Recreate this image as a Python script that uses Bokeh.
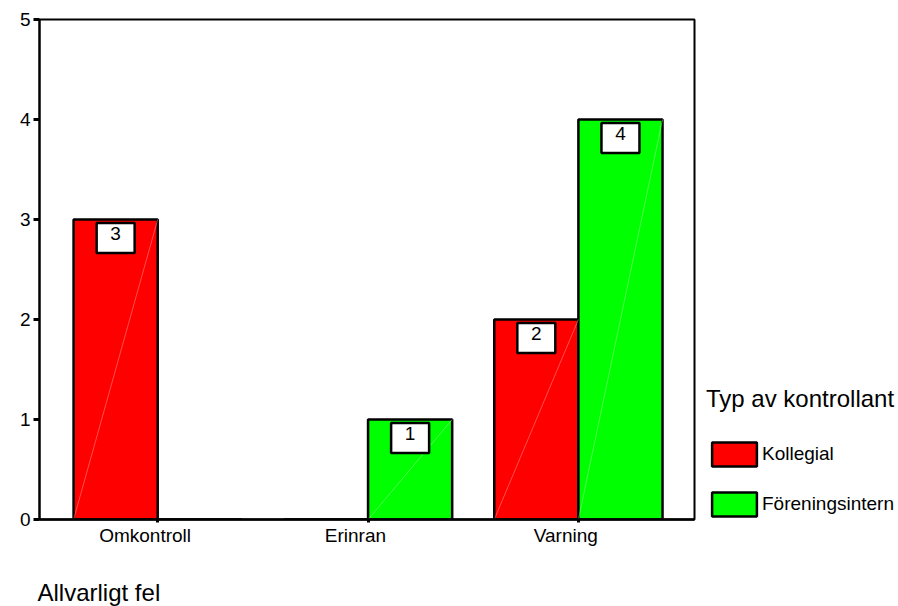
from bokeh.plotting import figure
from bokeh.layouts import row
from bokeh.models import (Range1d, FixedTicker, ColumnDataSource, Legend, LegendItem,
                          LinearAxis, Title)
from bokeh.embed import file_html
from bokeh.resources import INLINE

# Counts per category of serious error, split by type of controller
categories = ["Omkontroll", "Erinran", "Varning"]
kollegial = [3, 0, 2]
foreningsintern = [0, 1, 4]
series_names = ["Kollegial", "Föreningsintern"]
legend_title = "Typ av kontrollant"
x_title = "Allvarligt fel"
y_ticks = [0, 1, 2, 3, 4, 5]

FONT = "Liberation Sans"
SMALL = "19px"
LARGE = "24px"
RED = "#ff0000"
GREEN = "#00ff00"
BAR_W = 0.4

p = figure(width=700, height=606, output_backend="svg", toolbar_location=None,
           x_range=Range1d(-0.562, 2.552), y_range=Range1d(0, 5),
           x_axis_location=None,
           min_border_left=39, min_border_right=6, min_border_top=19,
           min_border_bottom=87)
p.background_fill_color = "white"
p.border_fill_color = "white"
p.outline_line_color = "black"
p.outline_line_width = 2
p.xgrid.visible = False
p.ygrid.visible = False

# y axis
p.yaxis.ticker = FixedTicker(ticks=y_ticks)
p.yaxis.axis_line_width = 2
p.yaxis.major_tick_out = 6
p.yaxis.major_tick_in = 0
p.yaxis.major_tick_line_width = 3
p.yaxis.minor_tick_line_color = None
p.yaxis.major_label_text_font = FONT
p.yaxis.major_label_text_font_size = SMALL
p.yaxis.major_label_text_color = "black"
p.yaxis.major_label_standoff = 3

xs = list(range(len(categories)))
blank_labels = {x: "" for x in xs}

# x axis line with tick stubs at the category centres
tick_axis = LinearAxis(ticker=FixedTicker(ticks=xs),
                       major_label_overrides=blank_labels,
                       axis_line_width=2.5, major_tick_out=3, major_tick_in=0,
                       major_tick_line_width=3, minor_tick_line_color=None,
                       major_label_standoff=0)
p.add_layout(tick_axis, "below")

# category names, set slightly left of the centres
label_axis = LinearAxis(ticker=FixedTicker(ticks=[x - 0.06 for x in xs]),
                        major_label_overrides={x - 0.06: c for x, c in zip(xs, categories)},
                        axis_line_color=None, major_tick_line_color=None,
                        minor_tick_line_color=None, major_tick_out=0, major_tick_in=0,
                        major_label_standoff=2,
                        major_label_text_font=FONT, major_label_text_font_size=SMALL,
                        major_label_text_color="black")
p.add_layout(label_axis, "below")

# blank axis used only as vertical space before the variable name
spacer_axis = LinearAxis(ticker=FixedTicker(ticks=xs),
                         major_label_overrides=blank_labels,
                         axis_line_color=None, major_tick_line_color=None,
                         minor_tick_line_color=None,
                         major_tick_out=28, major_tick_in=0, major_label_standoff=0)
p.add_layout(spacer_axis, "below")

p.add_layout(Title(text=x_title, align="left", offset=-2, standoff=0,
                   text_font=FONT, text_font_size=LARGE, text_font_style="normal",
                   text_color="black"), "below")

red_src = ColumnDataSource(dict(x=[x - BAR_W / 2 for x in xs], top=kollegial))
green_src = ColumnDataSource(dict(x=[x + BAR_W / 2 for x in xs], top=foreningsintern))
bar_style = dict(width=BAR_W, bottom=0, line_color="black", line_width=2.5)
p.vbar(x="x", top="top", source=red_src, fill_color=RED, **bar_style)
p.vbar(x="x", top="top", source=green_src, fill_color=GREEN, **bar_style)

# faint diagonal sheen inside the bars
for vals, off, col in [(kollegial, -BAR_W, "#ffa0a0"), (foreningsintern, 0.0, "#a0ffa0")]:
    x0 = [x + off for x, v in zip(xs, vals) if v > 0]
    x1 = [x + off + BAR_W for x, v in zip(xs, vals) if v > 0]
    y1 = [v for v in vals if v > 0]
    p.segment(x0=x0, y0=[0] * len(x0), x1=x1, y1=y1, line_color=col,
              line_width=0.7, line_alpha=0.7)

# value boxes near the top of each bar
for vals, off in [(kollegial, -BAR_W / 2), (foreningsintern, BAR_W / 2)]:
    bx = [x + off for x, v in zip(xs, vals) if v > 0]
    bv = [v for v in vals if v > 0]
    p.rect(x=bx, y=[v - 0.185 for v in bv], width=38, height=30,
           width_units="screen", height_units="screen",
           fill_color="white", line_color="black", line_width=2.5)
    p.text(x=bx, y=[v - 0.14 for v in bv], text=[str(v) for v in bv],
           text_align="center", text_baseline="middle",
           text_font={"value": FONT}, text_font_size={"value": SMALL},
           text_color="black")

# legend panel: swatch renderers carry only the series styling (no drawable rows)
lg = figure(width=198, height=606, output_backend="svg", toolbar_location=None,
            x_range=Range1d(0, 1), y_range=Range1d(0, 1),
            min_border=0, outline_line_color=None)
lg.axis.visible = False
lg.grid.visible = False
nan = float("nan")
sw_red = lg.vbar(x="x", top="top", source=ColumnDataSource(dict(x=[nan], top=[nan])),
                 fill_color=RED, **bar_style)
sw_green = lg.vbar(x="x", top="top", source=ColumnDataSource(dict(x=[nan], top=[nan])),
                   fill_color=GREEN, **bar_style)
legend = Legend(items=[LegendItem(label=series_names[0], renderers=[sw_red]),
                       LegendItem(label=series_names[1], renderers=[sw_green])],
                title=legend_title,
                title_text_font=FONT, title_text_font_size=LARGE,
                title_text_font_style="normal", title_text_color="black",
                title_standoff=26,
                label_text_font=FONT, label_text_font_size=SMALL,
                label_text_color="black",
                glyph_width=56, glyph_height=30, label_standoff=0,
                spacing=20, padding=0, margin=0,
                border_line_color=None, background_fill_alpha=0,
                location=(6, 0))
lg.add_layout(legend)

layout = row(p, lg)
open("out.html", "w").write(file_html(layout, INLINE))
